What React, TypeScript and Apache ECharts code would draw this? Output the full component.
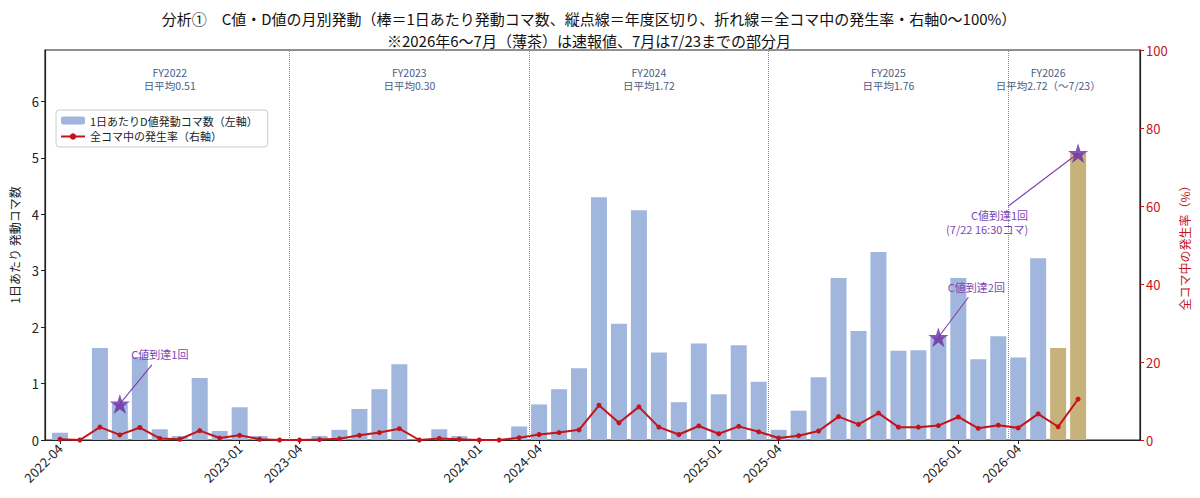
import React, { useEffect, useRef } from "react";
import * as echarts from "echarts";

const months = [
  "2022-04", "2022-05", "2022-06", "2022-07", "2022-08", "2022-09", "2022-10", "2022-11", "2022-12", "2023-01", "2023-02", "2023-03",
  "2023-04", "2023-05", "2023-06", "2023-07", "2023-08", "2023-09", "2023-10", "2023-11", "2023-12", "2024-01", "2024-02", "2024-03",
  "2024-04", "2024-05", "2024-06", "2024-07", "2024-08", "2024-09", "2024-10", "2024-11", "2024-12", "2025-01", "2025-02", "2025-03",
  "2025-04", "2025-05", "2025-06", "2025-07", "2025-08", "2025-09", "2025-10", "2025-11", "2025-12", "2026-01", "2026-02", "2026-03",
  "2026-04", "2026-05", "2026-06", "2026-07",
];

// 1日あたりD値発動コマ数
const dPerDay = [
  0.13, 0, 1.63, 0.64, 1.47, 0.19, 0.07, 1.10, 0.16, 0.58, 0.07, 0,
  0, 0.07, 0.18, 0.55, 0.90, 1.34, 0, 0.19, 0.07, 0, 0, 0.24,
  0.63, 0.90, 1.27, 4.30, 2.06, 4.07, 1.55, 0.67, 1.71, 0.81, 1.68, 1.03,
  0.18, 0.52, 1.11, 2.87, 1.93, 3.33, 1.58, 1.59, 1.82, 2.87, 1.43, 1.84,
  1.46, 3.22, 1.63, 5.08,
];

// 全コマ中の発生率 (%)
const ratePct = [
  0.2, 0, 3.3, 1.3, 3.2, 0.4, 0.2, 2.4, 0.5, 1.2, 0.2, 0,
  0, 0.1, 0.3, 1.2, 1.9, 2.9, 0, 0.4, 0.2, 0, 0, 0.6,
  1.4, 1.9, 2.6, 8.9, 4.4, 8.5, 3.3, 1.4, 3.6, 1.6, 3.5, 2.1,
  0.5, 1.1, 2.3, 6.0, 4.0, 6.9, 3.3, 3.3, 3.7, 5.9, 3.0, 3.8,
  3.1, 6.7, 3.4, 10.5,
];

const preliminaryMonths = ["2026-06", "2026-07"];
const tickMonths = ["2022-04", "2023-01", "2023-04", "2024-01", "2024-04", "2025-01", "2025-04", "2026-01", "2026-04"];

const fiscalYears = ["FY2022", "FY2023", "FY2024", "FY2025", "FY2026"];
const fyStartMonths = ["2022-04", "2023-04", "2024-04", "2025-04", "2026-04"];
const fyDailyAvg = ["日平均0.51", "日平均0.30", "日平均1.72", "日平均1.76", "日平均2.72（〜7/23）"];

const cHitMonths = ["2022-07", "2025-12", "2026-07"];
const cHitLabels = ["C値到達1回", "C値到達2回", "C値到達1回\n(7/22 16:30コマ)"];

const TITLE_1 = "分析①　C値・D値の月別発動（棒＝1日あたり発動コマ数、縦点線＝年度区切り、折れ線＝全コマ中の発生率・右軸0〜100%）";
const TITLE_2 = "※2026年6〜7月（薄茶）は速報値、7月は7/23までの部分月";

const BAR_NAME = "1日あたりD値発動コマ数（左軸）";
const LINE_NAME = "全コマ中の発生率（右軸）";
const FONT = "'Noto Sans CJK JP', 'Noto Sans', sans-serif";

const STAR =
  "path://M50,0 L61.2,34.5 L97.6,34.5 L68.2,55.9 L79.4,90.5 L50,69.1 L20.6,90.5 L31.8,55.9 L2.4,34.5 L38.8,34.5 Z";

// pixel offsets of annotation text / connector relative to the star
const annotationLayout = [
  { tx: 40, ty: -50, align: "center", lx: 32, ly: -39 },
  { tx: 38, ty: -50, align: "center", lx: 30, ly: -40 },
  { tx: -50, ty: 69, align: "right", lx: -70, ly: 53 },
];

export default function App() {
  const ref = useRef<HTMLDivElement>(null);

  useEffect(() => {
    document.body.style.margin = "0";
    if (!ref.current) return;
    const chart = echarts.init(ref.current, null, { renderer: "svg" });

    const barData = months.map((m, i) => ({
      value: [i, dPerDay[i]],
      itemStyle: { color: preliminaryMonths.includes(m) ? "#c8b27c" : "#a0b6dd" },
    }));
    const lineData = months.map((_, i) => [i, ratePct[i]]);
    const tickIdx = tickMonths.map((m) => months.indexOf(m));
    const dividers = fyStartMonths.slice(1).map((m) => ({ xAxis: months.indexOf(m) - 0.5 }));
    const fyData = fyStartMonths.map((m, k) => {
      const s = months.indexOf(m);
      const e = k + 1 < fyStartMonths.length ? months.indexOf(fyStartMonths[k + 1]) - 1 : months.length - 1;
      return [(s + e) / 2, 0, k];
    });
    const starData = cHitMonths.map((m) => {
      const i = months.indexOf(m);
      return [i, dPerDay[i]];
    });
    const annData = starData.map((p, k) => [p[0], p[1], k]);

    const titleStyle = {
      fontSize: 15,
      fontFamily: FONT,
      fill: "#111",
      align: "center",
      verticalAlign: "middle",
    };

    chart.setOption({
      animation: false,
      textStyle: { fontFamily: FONT },
      grid: { left: 43, right: 60, top: 50, bottom: 58, show: true, borderColor: "#222", borderWidth: 1.2, backgroundColor: "transparent" },
      graphic: [
        { type: "text", x: 589, y: 18, style: { ...titleStyle, text: TITLE_1 } },
        { type: "text", x: 589, y: 40, style: { ...titleStyle, text: TITLE_2 } },
      ],
      legend: {
        data: [BAR_NAME, LINE_NAME],
        orient: "vertical",
        left: 56,
        top: 110,
        itemWidth: 24,
        itemHeight: 8,
        itemGap: 5,
        padding: [5, 10, 5, 4],
        borderColor: "#cccccc",
        borderWidth: 1,
        borderRadius: 3,
        backgroundColor: "rgba(255,255,255,0.85)",
        textStyle: { fontSize: 11, color: "#222", fontFamily: FONT },
      },
      xAxis: {
        type: "value",
        min: -0.75,
        max: 54.1,
        splitLine: { show: false },
        axisLine: { show: true, onZero: false, lineStyle: { color: "#222", width: 1.2 } },
        axisTick: { show: true, customValues: tickIdx, length: 4, lineStyle: { color: "#222" } },
        axisLabel: {
          customValues: tickIdx,
          rotate: 45,
          fontSize: 13,
          color: "#222",
          margin: 6,
          formatter: (v: number) => months[Math.round(v)] ?? "",
        },
      },
      yAxis: [
        {
          type: "value",
          min: 0,
          max: 6.91,
          interval: 1,
          name: "1日あたり 発動コマ数",
          nameLocation: "middle",
          nameGap: 25,
          nameRotate: 90,
          nameTextStyle: { fontSize: 12, color: "#222", fontFamily: FONT },
          splitLine: { show: false },
          axisLine: { show: true, onZero: false, lineStyle: { color: "#222", width: 1.2 } },
          axisTick: { show: true, length: 4, lineStyle: { color: "#222" } },
          axisLabel: { fontSize: 13, color: "#222", margin: 6, showMaxLabel: false },
        },
        {
          type: "value",
          min: 0,
          max: 100,
          interval: 20,
          name: "全コマ中の発生率（%）",
          nameLocation: "middle",
          nameGap: 37,
          nameRotate: 90,
          nameTextStyle: { fontSize: 12, color: "#c4131b", fontFamily: FONT },
          splitLine: { show: false },
          axisLine: { show: true, onZero: false, lineStyle: { color: "#222", width: 1.2 } },
          axisTick: { show: true, length: 4, lineStyle: { color: "#c4131b" } },
          axisLabel: { fontSize: 13, color: "#c4131b", margin: 6 },
        },
      ],
      series: [
        {
          name: BAR_NAME,
          type: "bar",
          xAxisIndex: 0,
          yAxisIndex: 0,
          barWidth: 16,
          data: barData,
          itemStyle: { color: "#a0b6dd" },
          z: 2,
          markLine: {
            silent: true,
            symbol: ["none", "none"],
            label: { show: false },
            lineStyle: { type: "dotted", color: "#888", width: 1 },
            data: dividers,
          },
        },
        {
          name: LINE_NAME,
          type: "line",
          xAxisIndex: 0,
          yAxisIndex: 1,
          data: lineData,
          color: "#c4131b",
          lineStyle: { color: "#c4131b", width: 2 },
          itemStyle: { color: "#c4131b" },
          symbol: "circle",
          symbolSize: 5,
          showSymbol: true,
          z: 3,
        },
        {
          name: "fy",
          type: "custom",
          xAxisIndex: 0,
          yAxisIndex: 0,
          silent: true,
          data: fyData,
          renderItem: (params: any, api: any) => {
            const k = api.value(2);
            const p = api.coord([api.value(0), 0]);
            const base = {
              fill: "#4a5d86",
              fontSize: 10.5,
              fontFamily: FONT,
              align: "center",
              verticalAlign: "middle",
            };
            return {
              type: "group",
              children: [
                { type: "text", x: p[0], y: params.coordSys.y + 22, style: { ...base, text: fiscalYears[k] } },
                { type: "text", x: p[0], y: params.coordSys.y + 35.5, style: { ...base, text: fyDailyAvg[k] } },
              ],
            };
          },
          z: 4,
        },
        {
          name: "annotations",
          type: "custom",
          xAxisIndex: 0,
          yAxisIndex: 0,
          silent: true,
          data: annData,
          renderItem: (_params: any, api: any) => {
            const k = api.value(2);
            const p = api.coord([api.value(0), api.value(1)]);
            const a = annotationLayout[k];
            return {
              type: "group",
              children: [
                {
                  type: "line",
                  shape: { x1: p[0], y1: p[1], x2: p[0] + a.lx, y2: p[1] + a.ly },
                  style: { stroke: "#7b3fb2", lineWidth: 1.1 },
                },
                {
                  type: "text",
                  x: p[0] + a.tx,
                  y: p[1] + a.ty,
                  style: {
                    text: cHitLabels[k],
                    fill: "#7b46b5",
                    fontSize: 11,
                    fontFamily: FONT,
                    align: a.align,
                    verticalAlign: "middle",
                    lineHeight: 14,
                  },
                },
              ],
            };
          },
          z: 5,
        },
        {
          name: "stars",
          type: "scatter",
          xAxisIndex: 0,
          yAxisIndex: 0,
          data: starData,
          symbol: STAR,
          symbolSize: 20,
          itemStyle: { color: "#6a2aa3" },
          z: 6,
        },
      ],
    });

    return () => chart.dispose();
  }, []);

  return <div ref={ref} style={{ width: 1200, height: 498 }} />;
}
